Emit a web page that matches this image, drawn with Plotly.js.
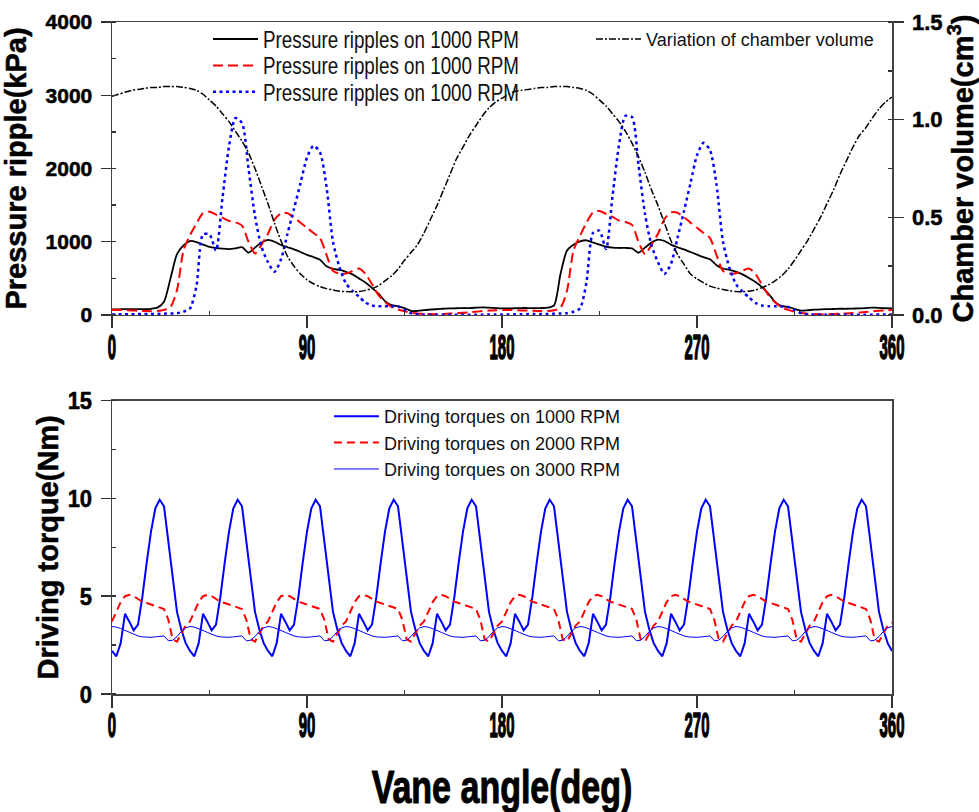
<!DOCTYPE html>
<html>
<head>
<meta charset="utf-8">
<script src="https://cdn.plot.ly/plotly-3.0.1.min.js"></script>
<style>
html,body{margin:0;padding:0;background:#fff;}
#chart{width:979px;height:812px;}
</style>
</head>
<body>
<div id="chart"></div>
<script>
// ---------- DATA (top plot: angle step 3 deg, 0..360) ----------
var volume = [
1.12,1.13,1.14,1.15,1.155,1.16,1.165,1.165,1.17,1.17,
1.17,1.165,1.16,1.15,1.13,1.10,1.07,1.03,0.99,0.94,
0.89,0.83,0.75,0.66,0.57,0.47,0.38,0.30,0.25,0.21,
0.18,0.16,0.145,0.135,0.128,0.122,0.12,0.119,0.12,0.126,
0.135,0.15,0.175,0.2,0.235,0.28,0.32,0.36,0.42,0.49,
0.56,0.64,0.72,0.8,0.86,0.92,0.97,1.02,1.06,1.09,
1.11,1.13,1.145,1.15,1.155,1.16,1.165,1.165,1.17,1.17,
1.17,1.165,1.16,1.15,1.13,1.10,1.07,1.03,0.99,0.94,
0.88,0.81,0.73,0.64,0.56,0.47,0.38,0.31,0.26,0.21,
0.185,0.165,0.148,0.138,0.13,0.124,0.12,0.119,0.122,0.128,
0.14,0.155,0.175,0.2,0.235,0.28,0.33,0.38,0.44,0.5,
0.57,0.64,0.72,0.79,0.86,0.92,0.96,1.01,1.055,1.09,
1.115];

var pressureBlack = [
78,78,80,80,80,80,85,100,180,500,
830,950,1010,995,960,930,915,905,900,910,
925,850,920,990,1025,1000,955,925,895,860,
820,790,755,665,630,615,590,555,500,445,
370,290,190,135,118,95,55,55,65,75,
80,85,90,92,95,95,100,105,100,95,
90,90,92,95,95,95,95,100,130,560,
880,960,1005,1020,990,960,935,920,915,915,
910,850,920,990,1030,1010,960,925,895,860,
825,790,760,680,635,615,590,555,505,450,
380,290,180,125,110,85,60,65,72,78,
80,82,85,85,88,90,95,100,98,92,
90];

var pressureRed = [
70,68,65,62,58,55,52,55,70,110,
340,880,1090,1250,1390,1410,1370,1330,1285,1265,
1220,1000,840,960,1110,1300,1390,1390,1330,1260,
1190,1120,1050,820,600,565,565,600,635,560,
420,270,180,110,75,50,30,20,15,12,
12,15,20,25,30,38,45,55,60,65,
68,68,66,63,60,57,54,55,65,100,
330,880,1080,1260,1400,1420,1380,1340,1290,1270,
1230,1000,830,960,1110,1310,1400,1395,1335,1260,
1190,1120,1050,820,600,565,570,605,635,560,
410,270,175,105,70,45,28,18,12,10,
10,12,18,22,28,35,42,50,58,64,
68];

var pressureBlue = [
8,8,10,10,12,12,15,15,18,20,
25,45,90,400,1100,1100,880,1600,2300,2690,
2620,2000,1350,930,720,590,760,1110,1450,1800,
2150,2310,2220,1750,1000,650,430,330,250,170,
130,120,118,120,120,70,25,10,5,3,
2,2,2,3,3,4,5,5,6,6,
8,8,10,10,12,12,15,15,18,20,
25,45,90,450,1120,1150,900,1620,2320,2720,
2700,2050,1380,950,720,560,700,1050,1420,1800,
2180,2350,2250,1780,1000,640,420,320,240,165,
130,120,118,115,110,65,25,10,5,3,
2,2,2,3,3,4,5,5,6,6,
8];

// ---------- DATA (bottom plot: angle step 2 deg, 0..360) ----------
var torque1000 = [
2.2,1.93,2.6,4.1,3.7,3.25,3.55,4.95,6.7,8.3,9.5,9.93,9.6,7.7,5.8,4.2,3.3,2.6,
2.2,1.93,2.6,4.1,3.7,3.25,3.55,4.95,6.7,8.3,9.5,9.93,9.6,7.7,5.8,4.2,3.3,2.6,
2.2,1.93,2.6,4.1,3.7,3.25,3.55,4.95,6.7,8.3,9.5,9.93,9.6,7.7,5.8,4.2,3.3,2.6,
2.2,1.93,2.6,4.1,3.7,3.25,3.55,4.95,6.7,8.3,9.5,9.93,9.6,7.7,5.8,4.2,3.3,2.6,
2.2,1.93,2.6,4.1,3.7,3.25,3.55,4.95,6.7,8.3,9.5,9.93,9.6,7.7,5.8,4.2,3.3,2.6,
2.2,1.93,2.6,4.1,3.7,3.25,3.55,4.95,6.7,8.3,9.5,9.93,9.6,7.7,5.8,4.2,3.3,2.6,
2.2,1.93,2.6,4.1,3.7,3.25,3.55,4.95,6.7,8.3,9.5,9.93,9.6,7.7,5.8,4.2,3.3,2.6,
2.2,1.93,2.6,4.1,3.7,3.25,3.55,4.95,6.7,8.3,9.5,9.93,9.6,7.7,5.8,4.2,3.3,2.6,
2.2,1.93,2.6,4.1,3.7,3.25,3.55,4.95,6.7,8.3,9.5,9.93,9.6,7.7,5.8,4.2,3.3,2.6,
2.2,1.93,2.6,4.1,3.7,3.25,3.55,4.95,6.7,8.3,9.5,9.93,9.6,7.7,5.8,4.2,3.3,2.6,
2.2];

var torque2000 = [
3.71,4.2,4.7,5.0,5.07,5.0,4.85,4.72,4.65,4.58,4.52,4.45,4.35,3.8,2.8,2.68,3.1,3.5,
3.71,4.2,4.7,5.0,5.07,5.0,4.85,4.72,4.65,4.58,4.52,4.45,4.35,3.8,2.8,2.68,3.1,3.5,
3.71,4.2,4.7,5.0,5.07,5.0,4.85,4.72,4.65,4.58,4.52,4.45,4.35,3.8,2.8,2.68,3.1,3.5,
3.71,4.2,4.7,5.0,5.07,5.0,4.85,4.72,4.65,4.58,4.52,4.45,4.35,3.8,2.8,2.68,3.1,3.5,
3.71,4.2,4.7,5.0,5.07,5.0,4.85,4.72,4.65,4.58,4.52,4.45,4.35,3.8,2.8,2.68,3.1,3.5,
3.71,4.2,4.7,5.0,5.07,5.0,4.85,4.72,4.65,4.58,4.52,4.45,4.35,3.8,2.8,2.68,3.1,3.5,
3.71,4.2,4.7,5.0,5.07,5.0,4.85,4.72,4.65,4.58,4.52,4.45,4.35,3.8,2.8,2.68,3.1,3.5,
3.71,4.2,4.7,5.0,5.07,5.0,4.85,4.72,4.65,4.58,4.52,4.45,4.35,3.8,2.8,2.68,3.1,3.5,
3.71,4.2,4.7,5.0,5.07,5.0,4.85,4.72,4.65,4.58,4.52,4.45,4.35,3.8,2.8,2.68,3.1,3.5,
3.71,4.2,4.7,5.0,5.07,5.0,4.85,4.72,4.65,4.58,4.52,4.45,4.35,3.8,2.8,2.68,3.1,3.5,
3.65];

var torque3000 = [
3.45,3.42,3.35,3.25,3.15,3.05,2.97,2.92,2.9,2.9,2.92,2.95,2.97,2.72,2.75,2.94,3.2,3.38,
3.45,3.42,3.35,3.25,3.15,3.05,2.97,2.92,2.9,2.9,2.92,2.95,2.97,2.72,2.75,2.94,3.2,3.38,
3.45,3.42,3.35,3.25,3.15,3.05,2.97,2.92,2.9,2.9,2.92,2.95,2.97,2.72,2.75,2.94,3.2,3.38,
3.45,3.42,3.35,3.25,3.15,3.05,2.97,2.92,2.9,2.9,2.92,2.95,2.97,2.72,2.75,2.94,3.2,3.38,
3.45,3.42,3.35,3.25,3.15,3.05,2.97,2.92,2.9,2.9,2.92,2.95,2.97,2.72,2.75,2.94,3.2,3.38,
3.45,3.42,3.35,3.25,3.15,3.05,2.97,2.92,2.9,2.9,2.92,2.95,2.97,2.72,2.75,2.94,3.2,3.38,
3.45,3.42,3.35,3.25,3.15,3.05,2.97,2.92,2.9,2.9,2.92,2.95,2.97,2.72,2.75,2.94,3.2,3.38,
3.45,3.42,3.35,3.25,3.15,3.05,2.97,2.92,2.9,2.9,2.92,2.95,2.97,2.72,2.75,2.94,3.2,3.38,
3.45,3.42,3.35,3.25,3.15,3.05,2.97,2.92,2.9,2.9,2.92,2.95,2.97,2.72,2.75,2.94,3.2,3.38,
3.45,3.42,3.35,3.25,3.15,3.05,2.97,2.92,2.9,2.9,2.92,2.95,2.97,2.72,2.75,2.94,3.2,3.38,
3.45];

var xTickVals = [0, 90, 180, 270, 360];
var xTickText = ['0', '90', '180', '270', '360'];
var pressureNames = ['Pressure ripples on 1000 RPM','Pressure ripples on 1000 RPM','Pressure ripples on 1000 RPM'];
var volumeName = 'Variation of chamber volume';
var torqueNames = ['Driving torques on 1000 RPM','Driving torques on 2000 RPM','Driving torques on 3000 RPM'];

// ---------- STYLE ----------
var FONT = 'Liberation Sans, Arial, Helvetica, sans-serif';
var AX = '#444';

var data = [
  {y: pressureBlack, x0: 0, dx: 3, type: 'scatter', mode: 'lines', name: pressureNames[0],
   xaxis: 'x', yaxis: 'y', legend: 'legend',
   line: {color: '#000000', width: 1.8, shape: 'spline', smoothing: 0.7}},
  {y: pressureRed, x0: 0, dx: 3, type: 'scatter', mode: 'lines', name: pressureNames[1],
   xaxis: 'x', yaxis: 'y', legend: 'legend',
   line: {color: '#ff0000', width: 2, dash: '10px,5px', shape: 'spline', smoothing: 0.7}},
  {y: pressureBlue, x0: 0, dx: 3, type: 'scatter', mode: 'lines', name: pressureNames[2],
   xaxis: 'x', yaxis: 'y', legend: 'legend',
   line: {color: '#0000ff', width: 2.5, dash: '3px,3.5px', shape: 'spline', smoothing: 0.7}},
  {y: volume, x0: 0, dx: 3, type: 'scatter', mode: 'lines', name: volumeName,
   xaxis: 'x', yaxis: 'y2', legend: 'legend2',
   line: {color: '#000000', width: 1.5, dash: '7px,2px,2px,2px', shape: 'spline', smoothing: 0.7}},
  {y: torque1000, x0: 0, dx: 2, type: 'scatter', mode: 'lines', name: torqueNames[0],
   xaxis: 'x2', yaxis: 'y3', legend: 'legend3',
   line: {color: '#0000ff', width: 2}},
  {y: torque2000, x0: 0, dx: 2, type: 'scatter', mode: 'lines', name: torqueNames[1],
   xaxis: 'x2', yaxis: 'y3', legend: 'legend3',
   line: {color: '#ff0000', width: 2, dash: '8px,5px'}},
  {y: torque3000, x0: 0, dx: 2, type: 'scatter', mode: 'lines', name: torqueNames[2],
   xaxis: 'x2', yaxis: 'y3', legend: 'legend3',
   line: {color: '#0000ff', width: 1}}
];

function xAxis(anchor, withTitle) {
  var a = {
    anchor: anchor, domain: [0, 1], range: [0, 360],
    tickmode: 'array', tickvals: xTickVals, ticktext: xTickText,
    ticks: 'outside', ticklen: 12, tickwidth: 1.5, tickcolor: '#333',
    showline: true, linecolor: AX, linewidth: 1.5, mirror: true,
    showgrid: false, zeroline: false, ticklabelstandoff: 3,
    tickfont: {family: FONT, size: 24, color: '#000', weight: 'bold'},
    minor: {tickvals: [45, 135, 225, 315], ticks: 'inside', ticklen: 4, tickwidth: 1, tickcolor: '#333', showgrid: false}
  };
  if (withTitle) {
    a.title = {text: 'Vane angle(deg)', standoff: 20,
               font: {family: FONT, size: 34, color: '#000', weight: 'bold'}};
  }
  return a;
}

function yAxis(opts) {
  var a = {
    ticks: 'outside', ticklen: 10, tickwidth: 1.5, tickcolor: '#333',
    showline: true, linecolor: AX, linewidth: 1.5,
    showgrid: false, zeroline: false, ticklabelstandoff: 4,
    tickfont: {family: FONT, size: 21, color: '#000', weight: 'bold'}
  };
  for (var k in opts) a[k] = opts[k];
  return a;
}

var legendFont = {family: FONT, size: 18, color: '#111'};

var layout = {
  width: 979, height: 812,
  margin: {l: 112, r: 87, t: 22, b: 118},
  paper_bgcolor: '#ffffff', plot_bgcolor: '#ffffff',
  font: {family: FONT, color: '#000'},
  xaxis: xAxis('y', false),
  xaxis2: xAxis('y3', true),
  yaxis: yAxis({
    anchor: 'x', domain: [0.564, 1], range: [0, 4000], dtick: 1000, tick0: 0,
    minor: {dtick: 500, ticks: 'inside', ticklen: 4, tickcolor: '#333', showgrid: false},
    title: {text: 'Pressure ripple(kPa)', standoff: 11,
            font: {family: FONT, size: 29, color: '#000', weight: 'bold'}}
  }),
  yaxis2: yAxis({
    anchor: 'x', overlaying: 'y', side: 'right', range: [0, 1.5], dtick: 0.5, tick0: 0,
    tickformat: '.1f',
    tickfont: {family: FONT, size: 22, color: '#000', weight: 'bold'},
    minor: {dtick: 0.25, ticks: 'inside', ticklen: 4, tickcolor: '#333', showgrid: false},
    title: {text: 'Chamber volume(cm<sup>3</sup>)', standoff: 12,
            font: {family: FONT, size: 29, color: '#000', weight: 'bold'}}
  }),
  yaxis3: yAxis({
    anchor: 'x2', domain: [0, 0.4365], range: [0, 15], dtick: 5, tick0: 0, mirror: true,
    tickfont: {family: FONT, size: 22, color: '#000', weight: 'bold'},
    minor: {dtick: 2.5, ticks: 'inside', ticklen: 4, tickcolor: '#333', showgrid: false},
    title: {text: 'Driving torque(Nm)', standoff: 0,
            font: {family: FONT, size: 29, color: '#000', weight: 'bold'}}
  }),
  legend: {x: 0.1231, y: 1.0018, xanchor: 'left', yanchor: 'top',
           bgcolor: 'rgba(0,0,0,0)', borderwidth: 0, itemwidth: 45, font: legendFont},
  legend2: {x: 0.6141, y: 1.0018, xanchor: 'left', yanchor: 'top',
            bgcolor: 'rgba(0,0,0,0)', borderwidth: 0, itemwidth: 45, font: legendFont},
  legend3: {x: 0.2781, y: 0.4405, xanchor: 'left', yanchor: 'top',
            bgcolor: 'rgba(0,0,0,0)', borderwidth: 0, itemwidth: 45, font: legendFont},
  showlegend: true
};

// scale a text about its centre (or its left edge) without changing its content
function squash(selector, sx, sy, leftAnchor) {
  document.querySelectorAll(selector).forEach(function (t) {
    var bb = t.getBBox();
    var cx = leftAnchor ? bb.x : bb.x + bb.width / 2, cy = bb.y + bb.height / 2;
    var prev = t.getAttribute('transform') || '';
    t.setAttribute('transform', prev + ' translate(' + cx + ',' + cy + ') scale(' + sx + ',' + sy + ') translate(' + (-cx) + ',' + (-cy) + ')');
  });
}
// move a text vertically so that its box centre lands on a target y
function placeY(selector, targetCy) {
  document.querySelectorAll(selector).forEach(function (t) {
    var r = t.getBoundingClientRect();
    var dy = targetCy - (r.top + r.height / 2);
    t.setAttribute('transform', 'translate(0,' + dy + ') ' + (t.getAttribute('transform') || ''));
  });
}
function heavy(selector, w) {
  document.querySelectorAll(selector).forEach(function (t) {
    t.style.stroke = '#000';
    t.style.strokeWidth = w + 'px';
    t.style.strokeLinejoin = 'round';
  });
}

Plotly.newPlot('chart', data, layout, {staticPlot: true, displayModeBar: false}).then(function () {
  // let the legend texts extend beyond the box plotly measured
  document.querySelectorAll('g.legend, g.legend *').forEach(function (el) {
    el.removeAttribute('clip-path');
  });
  heavy('.xtick text, .x2tick text', 1.1);
  heavy('.ytick text, .y2tick text, .y3tick text', 0.5);
  heavy('text.ytitle, text.y2title, text.y3title', 0.5);
  heavy('text.x2title', 0.8);
  squash('.xtick text, .x2tick text', 0.62, 1.5);
  placeY('.xtick text', 346.5);
  placeY('.x2tick text', 725);
  squash('text.x2title', 1, 1.36);
  placeY('text.x2title', 787);
  squash('text.legendtext', 1.045, 1.3, true);
  squash('.y3tick text', 1, 1.12);
});
</script>
</body>
</html>
